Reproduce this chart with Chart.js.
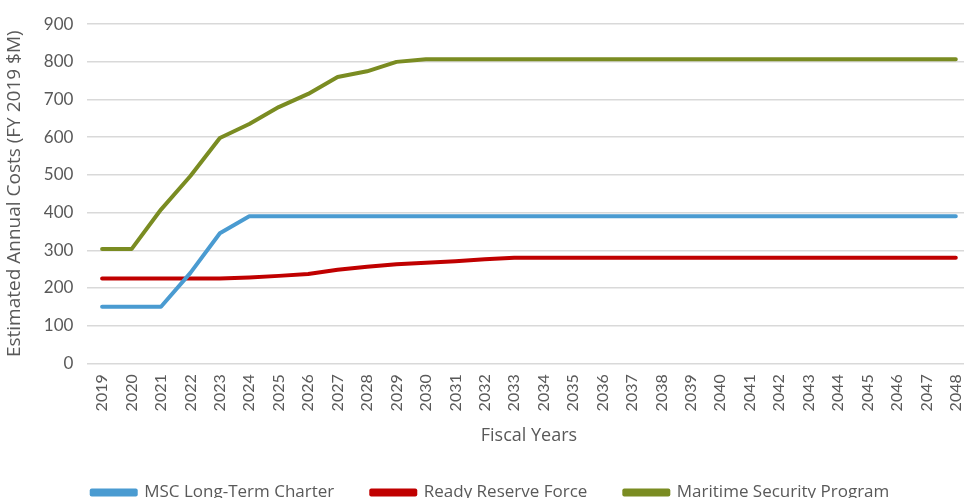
<!DOCTYPE html>
<html>
<head>
<meta charset="utf-8">
<script src="https://cdn.jsdelivr.net/npm/chart.js@4"></script>
<style>
  html, body { margin: 0; padding: 0; background: #fff; overflow: hidden; }
  #wrap { width: 978px; height: 511px; position: relative; }
</style>
</head>
<body>
<div id="wrap"><canvas id="costChart"></canvas></div>
<script>
// fiscal years 2019..2048
const years = [];
for (let y = 2019; y <= 2048; y++) years.push(String(y));

const mscCharter = [150, 150, 150, 240, 345, 390, 390, 390, 390, 390,
                    390, 390, 390, 390, 390, 390, 390, 390, 390, 390,
                    390, 390, 390, 390, 390, 390, 390, 390, 390, 390];
const readyReserve = [225, 225, 225, 225, 225, 228, 232, 237, 248, 256,
                      263, 267, 271, 276, 280, 280, 280, 280, 280, 280,
                      280, 280, 280, 280, 280, 280, 280, 280, 280, 280];
const maritimeSecurity = [303, 303, 408, 497, 598, 635, 680, 715, 760, 775,
                          800, 807, 807, 807, 807, 807, 807, 807, 807, 807,
                          807, 807, 807, 807, 807, 807, 807, 807, 807, 807];

const yTicks = [0, 100, 200, 300, 400, 500, 600, 700, 800, 900];

const textColor = '#595959';

function series(label, data, color) {
    return {
        label: label,
        data: data,
        borderColor: color,
        backgroundColor: color,
        borderWidth: 4,
        pointRadius: 0,
        tension: 0,
        borderCapStyle: 'round',
        borderJoinStyle: 'round'
    };
}

const ctx = document.getElementById('costChart').getContext('2d');
new Chart(ctx, {
    type: 'line',
    data: {
        labels: years,
        datasets: [
            series('MSC Long-Term Charter', mscCharter, '#4a9bd1'),
            series('Ready Reserve Force', readyReserve, '#c00000'),
            series('Maritime Security Program', maritimeSecurity, '#7a8c22')
        ]
    },
    options: {
        responsive: true,
        maintainAspectRatio: false,
        animation: false,
        layout: { padding: { top: -7, left: 3, right: 0, bottom: 0 } },
        plugins: {
            tooltip: { enabled: false },
            legend: {
                position: 'bottom',
                labels: {
                    boxWidth: 44,
                    boxHeight: 4,
                    padding: 37,
                    color: textColor,
                    font: { family: '"Open Sans", sans-serif', size: 17 }
                }
            }
        },
        scales: {
            x: {
                offset: true,
                grid: { display: false },
                border: { display: false },
                ticks: {
                    color: textColor,
                    autoSkip: false,
                    minRotation: 90,
                    maxRotation: 90,
                    padding: 3,
                    font: { family: 'Lato, sans-serif', size: 16 }
                },
                title: {
                    display: true,
                    text: 'Fiscal Years',
                    color: textColor,
                    padding: { top: 11, bottom: 0 },
                    font: { family: '"Open Sans", sans-serif', size: 18 }
                }
            },
            y: {
                min: 0,
                max: 900,
                afterBuildTicks: axis => { axis.ticks = yTicks.map(v => ({ value: v })); },
                grid: { color: '#d9d9d9', lineWidth: 1.5, drawTicks: false },
                border: { display: false },
                ticks: {
                    color: textColor,
                    padding: 14,
                    font: { family: 'Lato, sans-serif', size: 17 }
                },
                title: {
                    display: true,
                    text: 'Estimated Annual Costs (FY 2019 $M)',
                    color: textColor,
                    padding: { top: 0, bottom: 4 },
                    font: { family: '"Open Sans", sans-serif', size: 19 }
                }
            }
        }
    }
});
</script>
</body>
</html>
